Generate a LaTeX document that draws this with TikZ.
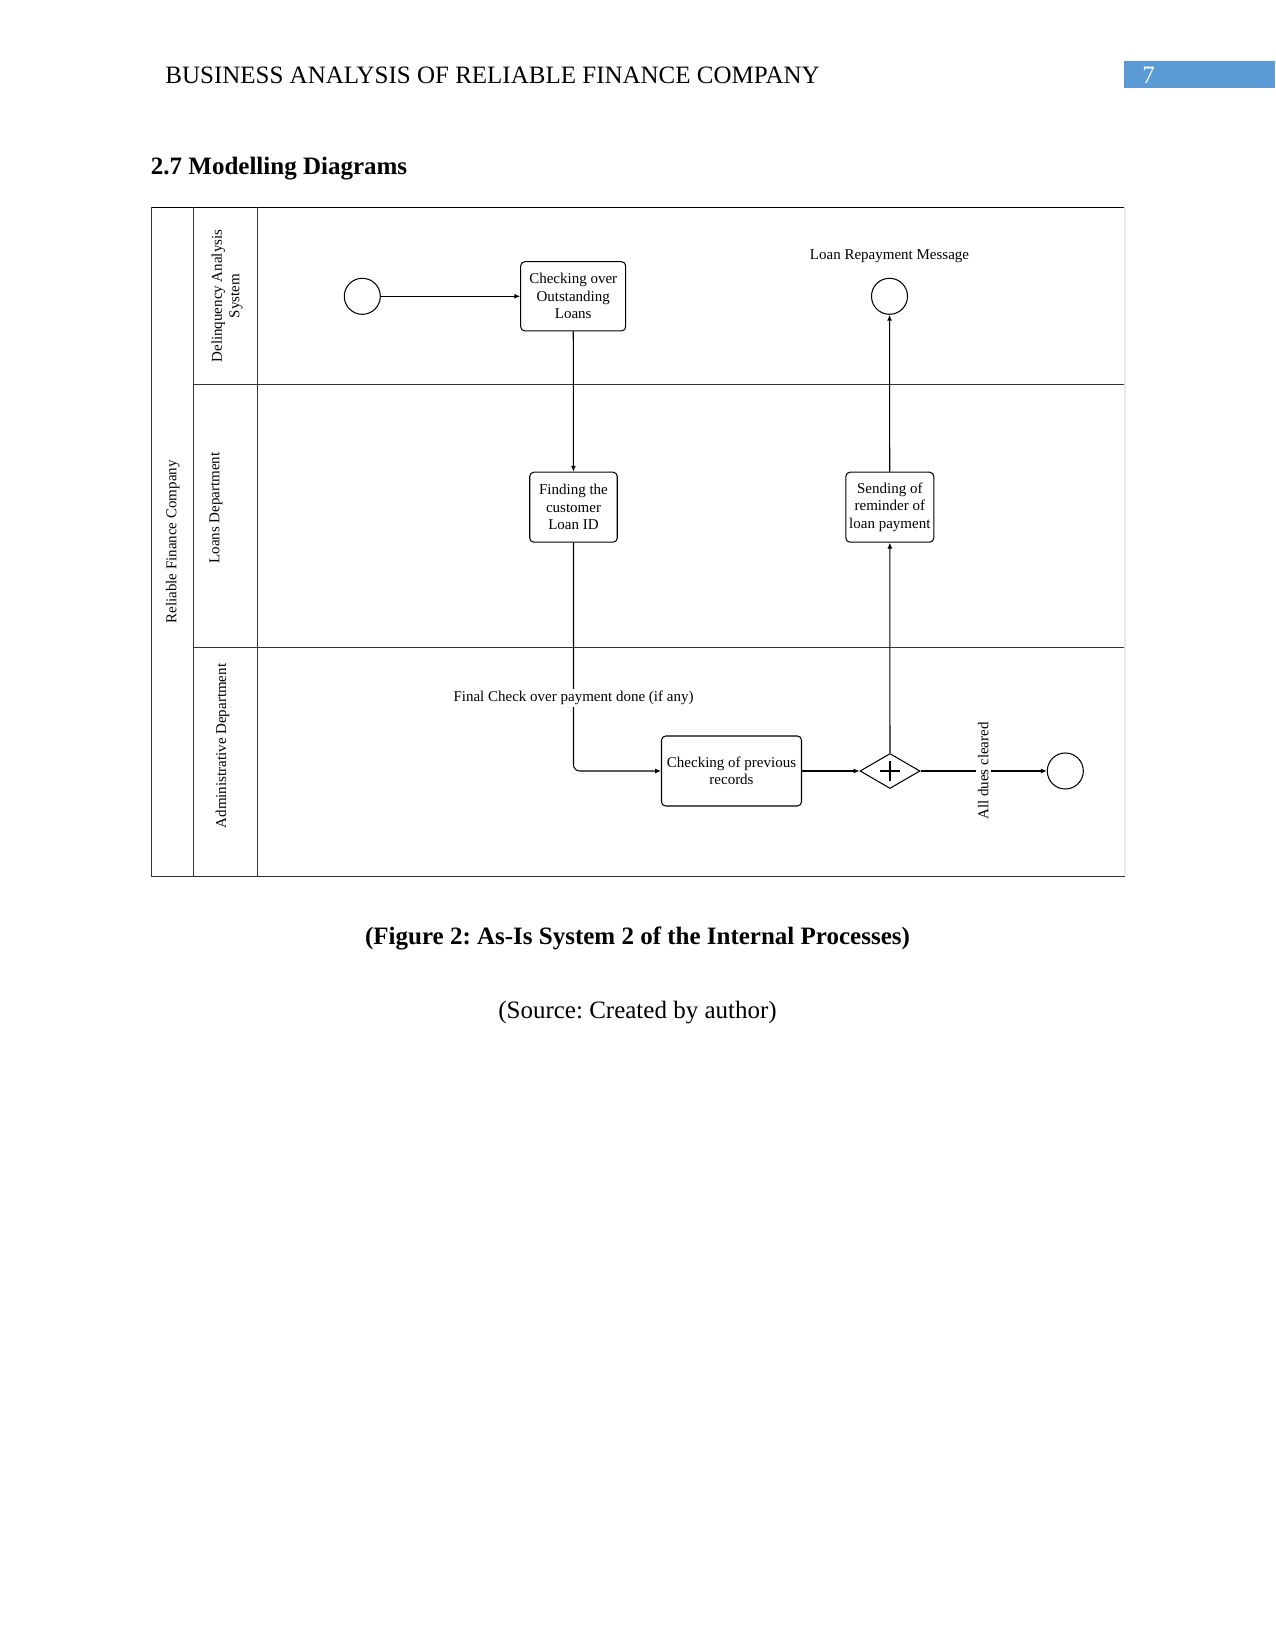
\documentclass[tikz,border=0pt]{standalone}
\usepackage{fontspec}
\setmainfont{Liberation Serif}
\frenchspacing
\usetikzlibrary{shapes.geometric,arrows.meta}
\definecolor{pageblue}{HTML}{5B9BD5}
\definecolor{frame}{HTML}{333333}
\tikzset{
  dfont/.style={font=\fontsize{7.2}{8.4}\selectfont},
  lbl/.style={dfont, inner sep=0.5pt, align=center},
  task/.style={draw, rounded corners=2pt, line width=0.5pt, align=center, dfont, inner sep=0pt},
  evt/.style={draw, circle, line width=0.5pt, minimum size=17.3pt, inner sep=0pt},
  flow/.style={line width=0.5pt, -{Latex[length=2.8pt,width=2.4pt]}},
  lane/.style={line width=0.45pt, draw=frame},
}
\begin{document}
\begin{tikzpicture}[x=0.48pt,y=-0.48pt]
\useasboundingbox (0,0) rectangle (1275,1651);
\fill[white] (0,0) rectangle (1275,1651);
% page header
\node[anchor=base west, inner sep=0pt, font=\fontsize{12}{14}\selectfont] (hdr) at (165,84) {BUSINESS ANALYSIS OF RELIABLE FINANCE COMPANY};
\fill[pageblue] (1124.4,61) rectangle (1275,88.4);
\node[anchor=base west, inner sep=0pt, text=white, font=\fontsize{12}{14}\selectfont] (pg) at (1142,84) {7};
\node[anchor=base west, inner sep=0pt, font=\bfseries\fontsize{12}{14}\selectfont] (sec) at (150.5,174.8) {2.7 Modelling Diagrams};
% pool and lanes
\draw[line width=0.75pt] (151.3,207.3) -- (1125,207.3);
\draw[lane] (151.3,207.3) -- (151.3,876) -- (1125,876);
\draw[lane] (193.3,207.3) -- (193.3,876);
\draw[lane] (257.3,207.3) -- (257.3,876);
\draw[lane] (193.3,384.4) -- (1125,384.4);
\draw[lane] (193.3,647.7) -- (1125,647.7);
\draw[black!8, line width=0.5pt] (1125,207.3) -- (1125,876);
\node[lbl, rotate=90] (pool) at (172.7,542) {Reliable Finance Company};
\node[lbl, rotate=90] (l1) at (227,296) {Delinquency Analysis\\System};
\node[lbl, rotate=90] (l2) at (216,508) {Loans Department};
\node[lbl, rotate=90] (l3) at (222.5,746) {Administrative Department};
% flow objects
\node[evt] (start) at (362.3,296.3) {};
\node[task, minimum width=50.4pt, minimum height=33.2pt] (chk) at (573.2,296.3) {Checking over\\Outstanding\\Loans};
\node[evt] (msg) at (889.5,296.3) {};
\node[lbl] (msgl) at (889.5,256) {Loan Repayment Message};
\node[task, minimum width=42pt, minimum height=33.6pt] (find) at (573.5,507.2) {Finding the\\customer\\Loan ID};
\node[task, minimum width=42.2pt, minimum height=33.6pt] (send) at (889.8,507.2) {Sending of\\reminder of\\loan payment};
\node[task, minimum width=67.2pt, minimum height=33.6pt] (prev) at (731.5,771) {Checking of previous\\records};
\node[draw, diamond, aspect=1.7, line width=0.5pt, minimum width=28.8pt, minimum height=16.8pt, inner sep=0pt] (gw) at (890,771) {};
\draw[line width=0.9pt] (880,771) -- (900,771) (890,761) -- (890,781);
\node[evt] (end) at (1065.3,771) {};
% connectors
\draw[flow] (start) -- (chk);
\draw[flow] (chk) -- (find);
\draw[flow, rounded corners=3pt] (find.south) |- (prev.west);
\node[lbl, fill=white, inner sep=1pt] (fcl) at (573.5,698) {Final Check over payment done (if any)};
\draw[flow] (prev) -- (gw);
\draw[flow] (gw) -- (send);
\draw[flow] (send) -- (msg);
\draw[flow] (gw) -- (end);
\node[lbl, rotate=90, fill=white, inner sep=1pt] (adc) at (983.3,771) {All dues cleared};
% caption
\node[anchor=base, inner sep=0pt, font=\bfseries\fontsize{12}{14}\selectfont] (cap) at (637.5,944.5) {(Figure 2: As-Is System 2 of the Internal Processes)};
\node[anchor=base, inner sep=0pt, font=\fontsize{12}{14}\selectfont] (src) at (637.5,1018) {(Source: Created by author)};
\end{tikzpicture}
\end{document}
